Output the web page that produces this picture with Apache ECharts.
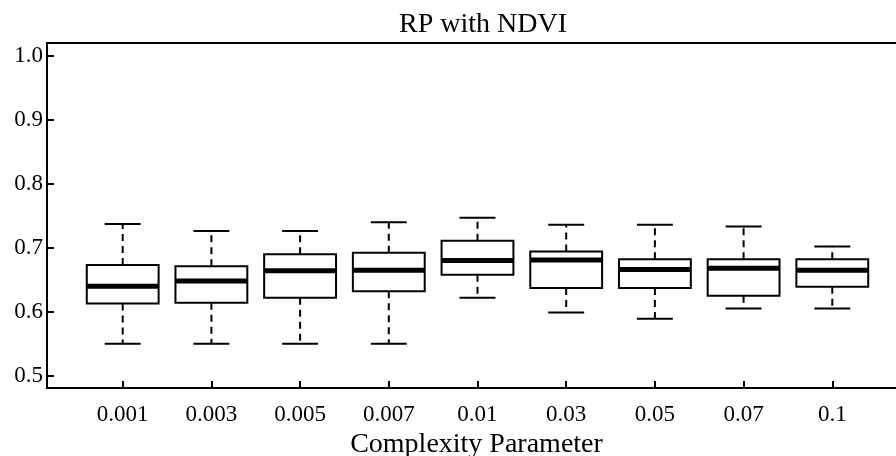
<!DOCTYPE html>
<html>
<head>
<meta charset="utf-8">
<script src="https://cdn.jsdelivr.net/npm/echarts@6/dist/echarts.min.js"></script>
<style>
  html, body { margin: 0; padding: 0; background: #fff; }
  #chart { width: 896px; height: 456px; }
</style>
</head>
<body>
<div id="chart"></div>
<script>
// complexity parameter values on the x axis
const categories = ['0.001', '0.003', '0.005', '0.007', '0.01', '0.03', '0.05', '0.07', '0.1'];
// box stats
const lowerWhisker = [0.550, 0.550, 0.550, 0.550, 0.622, 0.599, 0.589, 0.605, 0.605];
const lowerQuartile = [0.613, 0.614, 0.622, 0.632, 0.658, 0.637, 0.637, 0.625, 0.639];
const medians = [0.640, 0.648, 0.664, 0.665, 0.680, 0.681, 0.666, 0.668, 0.665];
const upperQuartile = [0.673, 0.671, 0.690, 0.692, 0.711, 0.694, 0.682, 0.682, 0.682];
const upperWhisker = [0.737, 0.726, 0.726, 0.740, 0.747, 0.736, 0.736, 0.733, 0.702];
const yTicks = [0.5, 0.6, 0.7, 0.8, 0.9, 1.0];

const chart = echarts.init(document.getElementById('chart'));

const boxData = categories.map((c, i) => [
  i + 1, lowerWhisker[i], lowerQuartile[i], medians[i], upperQuartile[i], upperWhisker[i]
]);

function renderBox(params, api) {
  const x = api.value(0);
  const pMin = api.coord([x, api.value(1)]);
  const pQ1 = api.coord([x, api.value(2)]);
  const pMed = api.coord([x, api.value(3)]);
  const pQ3 = api.coord([x, api.value(4)]);
  const pMax = api.coord([x, api.value(5)]);
  const unit = api.size([1, 0])[0];
  const bw = unit * 0.81;
  const cw = bw / 2;
  const cx = pMed[0];
  const black = '#000';
  return {
    type: 'group',
    children: [
      // whiskers
      {type: 'line', shape: {x1: cx, y1: pQ3[1], x2: cx, y2: pMax[1]},
        style: {stroke: black, lineWidth: 2, lineDash: [7, 5]}},
      {type: 'line', shape: {x1: cx, y1: pQ1[1], x2: cx, y2: pMin[1]},
        style: {stroke: black, lineWidth: 2, lineDash: [7, 5]}},
      // caps
      {type: 'line', shape: {x1: cx - cw / 2, y1: pMax[1], x2: cx + cw / 2, y2: pMax[1]},
        style: {stroke: black, lineWidth: 2}},
      {type: 'line', shape: {x1: cx - cw / 2, y1: pMin[1], x2: cx + cw / 2, y2: pMin[1]},
        style: {stroke: black, lineWidth: 2}},
      // box
      {type: 'rect', shape: {x: cx - bw / 2, y: pQ3[1], width: bw, height: pQ1[1] - pQ3[1]},
        style: {fill: '#fff', stroke: black, lineWidth: 2}},
      // median
      {type: 'line', shape: {x1: cx - bw / 2, y1: pMed[1], x2: cx + bw / 2, y2: pMed[1]},
        style: {stroke: black, lineWidth: 5}}
    ]
  };
}

const font = 'Liberation Serif';

const option = {
  animation: false,
  backgroundColor: '#fff',
  title: {
    text: 'RP with NDVI',
    left: 478,
    top: 6,
    textAlign: 'center',
    textStyle: {fontFamily: font, fontSize: 28, fontWeight: 'normal', color: '#000'}
  },
  grid: {
    left: 47,
    right: -10,
    top: 43,
    bottom: 68,
    outerBoundsMode: 'none',
    containLabel: false,
    show: true,
    borderColor: '#000',
    borderWidth: 2,
    backgroundColor: 'transparent'
  },
  xAxis: {
    type: 'value',
    min: 0.1466,
    max: 9.831,
    name: 'Complexity Parameter',
    nameLocation: 'middle',
    nameGap: 39,
    nameTextStyle: {fontFamily: font, fontSize: 28, color: '#000'},
    axisLine: {show: true, lineStyle: {color: '#000', width: 2}},
    axisTick: {show: true, inside: true, length: 7, lineStyle: {color: '#000', width: 2},
      customValues: categories.map((c, i) => i + 1)},
    axisLabel: {
      customValues: categories.map((c, i) => i + 1),
      formatter: v => categories[Math.round(v) - 1] || '',
      fontFamily: font, fontSize: 23, color: '#000', margin: 15
    },
    splitLine: {show: false}
  },
  yAxis: {
    type: 'value',
    min: 0.481,
    max: 1.0197,
    axisLine: {show: true, lineStyle: {color: '#000', width: 2}},
    axisTick: {show: true, inside: true, length: 7, lineStyle: {color: '#000', width: 2},
      customValues: yTicks},
    axisLabel: {
      customValues: yTicks,
      formatter: v => v.toFixed(1),
      fontFamily: font, fontSize: 23, color: '#000', margin: 4
    },
    splitLine: {show: false}
  },
  series: [{
    type: 'custom',
    renderItem: renderBox,
    encode: {x: 0, y: [1, 2, 3, 4, 5]},
    data: boxData
  }]
};

chart.setOption(option);
</script>
</body>
</html>
